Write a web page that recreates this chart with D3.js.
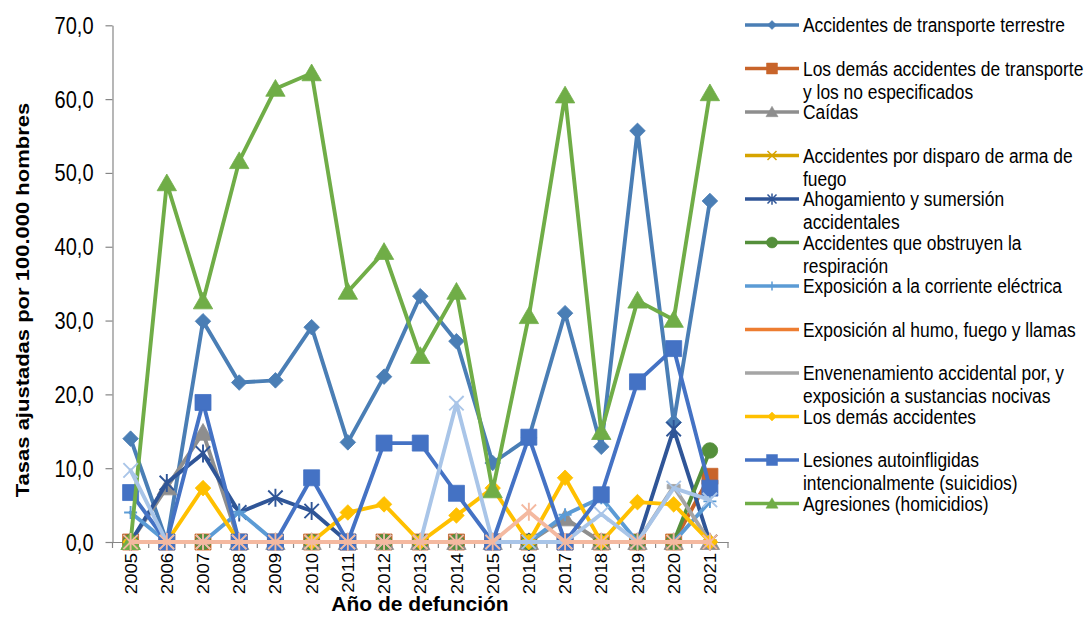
<!DOCTYPE html>
<html><head><meta charset="utf-8">
<script src="https://cdn.jsdelivr.net/npm/d3@7"></script>
<style>
body{margin:0;background:#fff}
svg{display:block;font-family:"Liberation Sans",Arial,sans-serif}
</style>
</head><body>
<svg id="c" width="1086" height="617"></svg>
<script>
// ---------- DATA ----------
const years = ["2005","2006","2007","2008","2009","2010","2011","2012","2013","2014","2015","2016","2017","2018","2019","2020","2021"];
const yTicks = [0,10,20,30,40,50,60,70];
const yTitle = "Tasas ajustadas por 100.000 hombres";
const xTitle = "Año de defunción";

const transporteTerrestre = [14.0,0,29.9,21.6,21.9,29.1,13.5,22.4,33.3,27.2,10.7,14.1,31.0,12.9,55.7,16.2,46.2];
const demasTransporte     = [0,0,0,0,0,0,0,0,0,0,0,0,0,0,0,0,8.9];
const caidas              = [0,7.4,14.8,0,0,0,0,0,0,0,0,0,3.2,0,0,0,0];
const armaFuego           = [0,0,0,0,0,0,0,0,0,0,0,0,0,0,0,0,0];
const ahogamiento         = [0,8.0,12.0,4.0,6.0,4.2,0,0,0,0,0,0,0,0,0,15.3,0];
const respiracion         = [0,0,0,0,0,0,0,0,0,0,0,0,0,0,0,0,12.4];
const corrienteElectrica  = [4.0,0,0,4.1,0,0,0,0,0,0,0,0,3.7,6.0,0,0,5.5];
const humoFuego           = [0,0,0,0,0,0,0,0,0,0,0,0,0,0,0,0,0];
const envenenamiento      = [0,0,0,0,0,0,0,0,0,0,0,0,0,0,0,7.5,0];
const demasAccidentes     = [0,0,7.3,0,0,0,4.0,5.1,0,3.6,7.3,0,8.7,0,5.4,5.1,0];
const suicidios           = [6.7,0,18.9,0,0,8.7,0,13.4,13.4,6.6,0,14.2,0,6.4,21.7,26.2,7.3];
const homicidios          = [0,48.6,32.6,51.6,61.4,63.5,33.9,39.3,25.2,33.9,7.0,30.6,60.5,14.9,32.7,30.1,60.8];
const serie13             = [9.7,0,0,0,0,0,0,0,0,18.8,0,0,0,3.8,0,7.3,5.7];
const serie14             = [0,0,0,0,0,0,0,0,0,0,0,4.1,0,0,0,0,0];

const series = [
  {name:"Accidentes de transporte terrestre", values:transporteTerrestre, color:"#4A7EB5", marker:"diamond", legend:true},
  {name:"Los demás accidentes de transporte y los no especificados", values:demasTransporte, color:"#C8642A", marker:"square", legend:true},
  {name:"Caídas", values:caidas, color:"#8E8E8E", marker:"triangle", legend:true},
  {name:"Accidentes por disparo de arma de fuego", values:armaFuego, color:"#D6A400", marker:"x", legend:true},
  {name:"Ahogamiento y sumersión accidentales", values:ahogamiento, color:"#2F5597", marker:"star", legend:true},
  {name:"Accidentes que obstruyen la respiración", values:respiracion, color:"#548F3B", marker:"circle", legend:true},
  {name:"Exposición a la corriente eléctrica", values:corrienteElectrica, color:"#5B9BD5", marker:"plus", legend:true},
  {name:"Exposición al humo, fuego y llamas", values:humoFuego, color:"#ED7D31", marker:"dash", legend:true},
  {name:"Envenenamiento accidental por, y exposición a sustancias nocivas", values:envenenamiento, color:"#A5A5A5", marker:"dash", legend:true},
  {name:"Los demás accidentes", values:demasAccidentes, color:"#FFC000", marker:"diamond", legend:true},
  {name:"Lesiones autoinfligidas intencionalmente (suicidios)", values:suicidios, color:"#4472C4", marker:"square", legend:true},
  {name:"Agresiones (homicidios)", values:homicidios, color:"#70AD47", marker:"triangle", legend:true},
  {name:"Serie 13", values:serie13, color:"#A9C5E8", marker:"x", legend:false},
  {name:"Serie 14", values:serie14, color:"#F4B9A0", marker:"star", legend:false}
];

// ---------- LAYOUT ----------
const SX = 0.87;             // horizontal glyph compression seen in the reference
const svg = d3.select("#c");
const x = d3.scalePoint().domain(years).range([112.5, 728]).padding(0.5);
const y = d3.scaleLinear().domain([0,70]).range([542, 25.3]);
const fmt = d3.formatLocale({decimal:",", thousands:".", grouping:[3], currency:["$",""]}).format(".1f");
const axisColor = "#868686";

function markerPath(type, s){
  switch(type){
    case "diamond": return `M0,${-s}L${s},0L0,${s}L${-s},0Z`;
    case "square": return `M${-s},${-s}H${s}V${s}H${-s}Z`;
    case "triangle": return `M0,${-s*1.05}L${s*1.1},${s*0.85}L${-s*1.1},${s*0.85}Z`;
    case "x": return `M${-s},${-s}L${s},${s}M${s},${-s}L${-s},${s}`;
    case "star": return `M${-s},${-s}L${s},${s}M${s},${-s}L${-s},${s}M0,${-s*1.25}V${s*1.25}`;
    case "plus": return `M${-s},0H${s}M0,${-s}V${s}`;
    case "dash": return `M${-s},-2.2H${s}V2.2H${-s}Z`;
    case "circle": { const p = d3.path(); p.arc(0,0,s,0,2*Math.PI); return p.toString(); }
  }
}
const strokeOnly = t => t==="x"||t==="star"||t==="plus";
const markerSize = {diamond:7.8, square:8, triangle:8.8, x:7.2, star:7.2, plus:6.5, dash:6.5, circle:7.8};
const legendSize = {diamond:4.5, square:5.5, triangle:5.5, x:4.5, star:4.5, plus:4.5, dash:0, circle:5.5};

// ---------- Y AXIS ----------
const gy = svg.append("g").attr("transform","translate(112.5,0)")
  .call(d3.axisLeft(y).tickValues(yTicks).tickSize(7).tickSizeOuter(0).tickFormat(fmt));
gy.select(".domain").attr("stroke",axisColor).attr("stroke-width",1.2);
gy.selectAll(".tick line").attr("stroke",axisColor).attr("stroke-width",1.2);
gy.selectAll(".tick text")
  .attr("x",null).attr("dy",null)
  .attr("transform",`translate(-19,0) scale(${SX},1)`)
  .attr("dominant-baseline","central")
  .attr("font-size",23).attr("fill","#000").attr("font-family",'"Liberation Sans",Arial,sans-serif');

// ---------- X AXIS ----------
const gx = svg.append("g").attr("transform","translate(0,542)")
  .call(d3.axisBottom(x).tickSize(0).tickSizeOuter(0));
gx.select(".domain").attr("stroke",axisColor).attr("stroke-width",1.2);
gx.selectAll(".tick text")
  .attr("y",null).attr("dy",null)
  .attr("transform",`translate(0,11) scale(${SX},1) rotate(-90)`)
  .attr("text-anchor","end").attr("dominant-baseline","central")
  .attr("font-size",18.5).attr("fill","#000").attr("font-family",'"Liberation Sans",Arial,sans-serif');
const step = x.step();
const bounds = d3.range(years.length+1).map(i => x(years[0]) - step/2 + i*step);
gx.selectAll("line.bt").data(bounds).join("line").attr("class","bt")
  .attr("x1",d=>d).attr("x2",d=>d).attr("y1",0).attr("y2",6)
  .attr("stroke",axisColor).attr("stroke-width",1.2);

// ---------- TITLES ----------
svg.append("text")
  .attr("transform",`translate(22,300) scale(${SX},1) rotate(-90)`)
  .attr("text-anchor","middle").attr("dominant-baseline","central")
  .attr("font-size",22).attr("font-weight","bold").attr("fill","#000").text(yTitle);
svg.append("text")
  .attr("transform",`translate(420,611)`)
  .attr("text-anchor","middle")
  .attr("font-size",21).attr("font-weight","bold").attr("fill","#000").text(xTitle);

// ---------- SERIES ----------
const line = d3.line().x((d,i)=>x(years[i])).y(d=>y(d));
const plot = svg.append("g");
series.forEach(s => {
  const g = plot.append("g");
  g.append("path").attr("d", line(s.values)).attr("fill","none")
    .attr("stroke", s.color).attr("stroke-width",3.9).attr("stroke-linejoin","round").attr("stroke-linecap","round");
  const so = strokeOnly(s.marker);
  g.selectAll("path.m").data(s.values).join("path").attr("class","m")
    .attr("transform",(d,i)=>`translate(${x(years[i])},${y(d)})`)
    .attr("d", markerPath(s.marker, markerSize[s.marker]))
    .attr("fill", so ? "none" : s.color)
    .attr("stroke", s.color).attr("stroke-width", so ? 1.9 : 0.8);
});

// ---------- LEGEND ----------
const lg = svg.append("g");
const maxW = 288;
series.filter(s=>s.legend).forEach((s,i) => {
  const ly = 25 + i*43.5;
  lg.append("line").attr("x1",745).attr("x2",799).attr("y1",ly).attr("y2",ly)
    .attr("stroke",s.color).attr("stroke-width",3.6);
  if (legendSize[s.marker] > 0) {
    const so = strokeOnly(s.marker);
    lg.append("path").attr("transform",`translate(772,${ly})`)
      .attr("d", markerPath(s.marker, legendSize[s.marker]))
      .attr("fill", so ? "none" : s.color).attr("stroke", s.color).attr("stroke-width", so ? 1.5 : 0.5);
  }
  const words = s.name.split(" ");
  const lines = [];
  let cur = "";
  const probe = lg.append("text").attr("font-size",20).attr("visibility","hidden");
  words.forEach(w => {
    const test = cur ? cur + " " + w : w;
    probe.text(test);
    if (probe.node().getComputedTextLength()*SX > maxW && cur) { lines.push(cur); cur = w; }
    else cur = test;
  });
  lines.push(cur);
  probe.remove();
  lines.forEach((t,j) => {
    lg.append("text").attr("transform",`translate(803,${ly + 7 + j*23}) scale(${SX},1)`)
      .attr("font-size",20).attr("fill","#000").text(t);
  });
});
</script>
</body></html>
